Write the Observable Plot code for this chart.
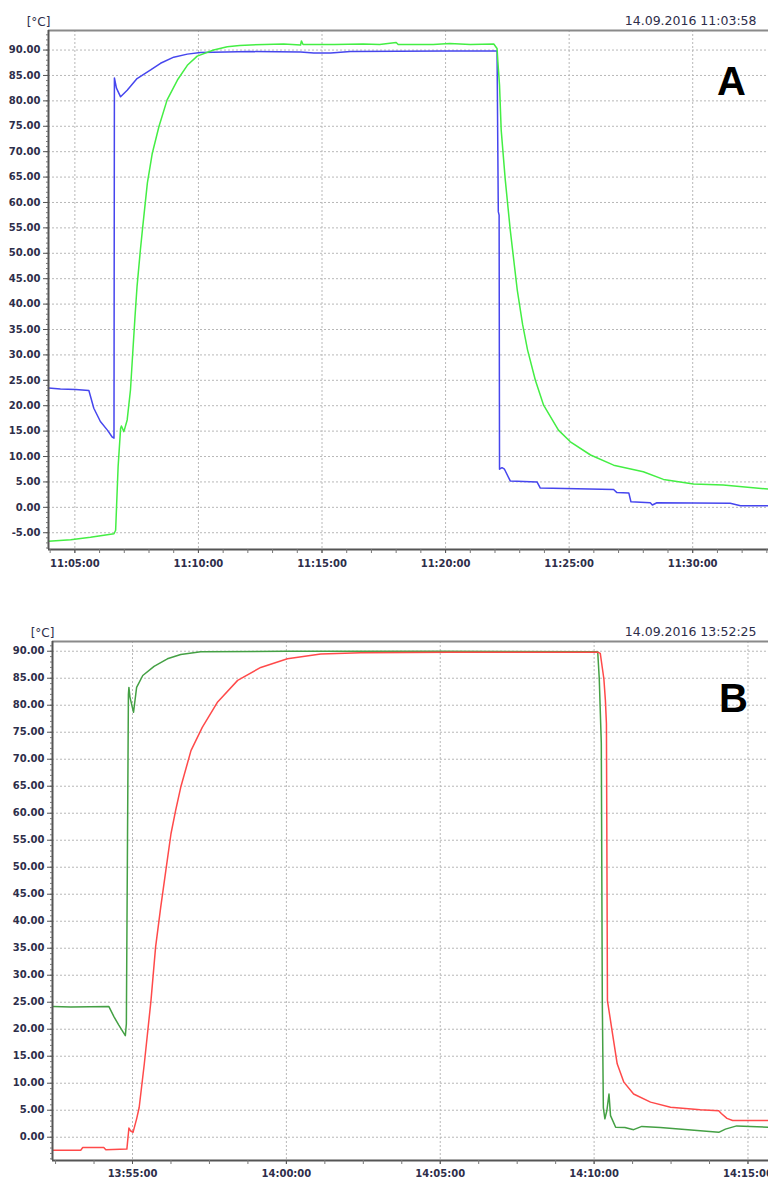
<!DOCTYPE html>
<html><head><meta charset="utf-8">
<script src="https://cdn.jsdelivr.net/npm/d3@7"></script>
<script src="https://cdn.jsdelivr.net/npm/@observablehq/plot@0.6"></script>
<style>
body{margin:0;background:#fff;}
#chart{width:768px;height:1180px;overflow:hidden;}
#chart svg{display:block;}
</style></head><body><div id="chart"></div>
<script>
// ---------- Panel A data ----------
const blueA = [["11:03:56",23.5],["11:04:25",23.3],["11:05:02",23.2],["11:05:34",23.0],["11:05:46",19.5],["11:06:02",16.9],["11:06:19",15.2],["11:06:31",13.8],["11:06:35",13.6],["11:06:36",84.5],["11:06:41",82.5],["11:06:51",80.8],["11:07:07",82.1],["11:07:31",84.4],["11:08:04",86.1],["11:08:28",87.4],["11:09:00",88.6],["11:09:33",89.2],["11:10:05",89.5],["11:12:06",89.7],["11:14:08",89.6],["11:14:40",89.4],["11:15:21",89.4],["11:16:09",89.7],["11:20:00",89.8],["11:22:05",89.8],["11:22:08",58.2],["11:22:10",57.5],["11:22:11",7.5],["11:22:17",7.8],["11:22:23",7.5],["11:22:37",5.2],["11:23:42",5.0],["11:23:50",3.8],["11:26:48",3.5],["11:26:56",2.9],["11:27:25",2.8],["11:27:30",1.1],["11:28:17",0.9],["11:28:22",0.45],["11:28:33",0.9],["11:31:31",0.8],["11:31:56",0.3],["11:33:04",0.3]];
const greenA = [["11:03:56",-6.7],["11:04:50",-6.4],["11:05:38",-5.9],["11:06:35",-5.2],["11:06:39",-4.5],["11:06:45",8],["11:06:51",15.5],["11:06:53",16.0],["11:06:59",14.9],["11:07:07",17.2],["11:07:15",23.1],["11:07:21",31],["11:07:26",37.5],["11:07:31",43.5],["11:07:39",50.6],["11:07:44",54.6],["11:07:56",63.8],["11:08:08",69.7],["11:08:24",74.9],["11:08:44",80.2],["11:09:09",84.1],["11:09:33",87.0],["11:09:57",88.8],["11:10:37",90.0],["11:11:10",90.65],["11:11:40",90.9],["11:12:06",91.0],["11:12:40",91.1],["11:13:27",91.2],["11:14:08",91.0],["11:14:10",91.8],["11:14:14",91.1],["11:15:30",91.1],["11:16:40",91.2],["11:17:20",91.1],["11:18:00",91.5],["11:18:05",91.1],["11:19:30",91.1],["11:20:10",91.3],["11:21:00",91.1],["11:21:57",91.2],["11:22:05",90.3],["11:22:07",87.7],["11:22:11",83.1],["11:22:15",74.3],["11:22:25",64.4],["11:22:37",54.6],["11:22:54",42.8],["11:23:07",36],["11:23:19",31],["11:23:38",25],["11:23:58",20.1],["11:24:34",15.2],["11:25:03",12.9],["11:25:52",10.3],["11:26:48",8.3],["11:28:00",7.0],["11:28:49",5.5],["11:30:02",4.6],["11:31:14",4.4],["11:33:04",3.6]];
const xTicksA = ["11:05:00","11:10:00","11:15:00","11:20:00","11:25:00","11:30:00"];
const yTicksA = [-5,0,5,10,15,20,25,30,35,40,45,50,55,60,65,70,75,80,85,90];
const xDomainA = ["11:03:56","11:33:04"];
const yDomainA = [-8.3, 93.85];
const dateA = "14.09.2016 11:03:58";

// ---------- Panel B data ----------
const greenB = [["13:52:25",24.2],["13:53:00",24.1],["13:54:14",24.2],["13:54:24",22.3],["13:54:33",20.8],["13:54:46",18.8],["13:54:48",21.0],["13:54:50",51.6],["13:54:52",82.0],["13:54:53",83.3],["13:54:55",81.5],["13:55:02",78.7],["13:55:08",83.3],["13:55:20",85.5],["13:55:42",87.2],["13:56:08",88.6],["13:56:34",89.4],["13:57:13",89.9],["14:00:00",90.0],["14:05:00",90.0],["14:10:07",89.9],["14:10:10",85],["14:10:14",73],["14:10:16",25],["14:10:18",5.5],["14:10:21",3.4],["14:10:25",5.0],["14:10:29",8.0],["14:10:32",4.0],["14:10:42",1.85],["14:11:00",1.8],["14:11:17",1.4],["14:11:33",2.0],["14:12:09",1.8],["14:13:27",1.2],["14:14:03",0.9],["14:14:16",1.5],["14:14:38",2.1],["14:15:39",1.85]];
const redB = [["13:52:25",-2.4],["13:53:19",-2.4],["13:53:23",-1.9],["13:54:04",-1.9],["13:54:08",-2.3],["13:54:49",-2.2],["13:54:53",1.7],["13:54:56",1.2],["13:55:01",0.9],["13:55:08",3.4],["13:55:13",5.5],["13:55:23",13.6],["13:55:36",25.3],["13:55:45",35.2],["13:55:55",42.6],["13:56:05",49.4],["13:56:15",56.2],["13:56:24",60.5],["13:56:34",64.8],["13:56:54",71.6],["13:57:16",75.9],["13:57:46",80.6],["13:58:25",84.6],["13:59:10",87.0],["14:00:02",88.6],["14:01:07",89.5],["14:02:25",89.7],["14:05:20",89.8],["14:10:08",89.8],["14:10:12",89.6],["14:10:19",84.9],["14:10:22",80.9],["14:10:24",76.6],["14:10:26",25.3],["14:10:36",19.1],["14:10:45",13.6],["14:10:58",10.2],["14:11:17",8.0],["14:11:50",6.5],["14:12:29",5.55],["14:13:27",5.1],["14:14:03",4.9],["14:14:08",4.4],["14:14:19",3.5],["14:14:30",3.1],["14:15:39",3.1]];
const xTicksB = ["13:55:00","14:00:00","14:05:00","14:10:00","14:15:00"];
const yTicksB = [0,5,10,15,20,25,30,35,40,45,50,55,60,65,70,75,80,85,90];
const xDomainB = ["13:52:24","14:15:40"];
const yDomainB = [-4.31, 91.8];
const dateB = "14.09.2016 13:52:25";

const unitLabel = "[°C]";

// ---------- helpers ----------
const T = s => new Date(`2016-09-14T${s}Z`);
const rows = arr => arr.map(([t, v]) => ({t: T(t), v}));
const fmtX = d3.utcFormat("%H:%M:%S");
const fmtY = d => d.toFixed(2);
const gridColor = "#b8b8b8";
const labelColor = "#2e2e4a";

function panel(o) {
  const xd = o.xDomain.map(T);
  const xt = o.xTicks.map(T);
  const yMinor = d3.range(Math.ceil(o.yDomain[0]), Math.floor(o.yDomain[1]) + 1);
  const marks = [
    Plot.ruleY(o.yTicks, {stroke: gridColor, strokeDasharray: "2,2"}),
    Plot.ruleX(xt, {stroke: gridColor, strokeDasharray: "2,2"}),
    ...o.series.map(s => Plot.line(rows(s.data), {x: "t", y: "v", stroke: s.color, strokeWidth: 1.5})),
    Plot.ruleY([o.yDomain[1]], {stroke: "#8a8a8a", strokeWidth: 2}),
    Plot.ruleY([o.yDomain[0]], {stroke: "#555", strokeWidth: 2}),
    Plot.ruleX([xd[0]], {stroke: "#555", strokeWidth: 2}),
    Plot.axisY(yMinor, {tickSize: 2, tickFormat: () => "", stroke: "#777", label: null}),
    Plot.axisY(o.yTicks, {tickSize: 5, tickPadding: 3, tickFormat: fmtY, stroke: "#555", fontWeight: "bold", label: null}),
    Plot.axisX(o.xMinor, {tickSize: 4, tickFormat: () => "", stroke: "#777", label: null}),
    Plot.axisX(xt, {tickSize: 4, tickPadding: o.xPad, tickFormat: fmtX, stroke: "#555", fontWeight: "bold", label: null}),
    Plot.text([unitLabel], {text: d => d, frameAnchor: "top-left", dx: o.unitDx, dy: o.unitDy, textAnchor: "middle", fontSize: 12, fontWeight: "normal"}),
    Plot.text([o.date], {text: d => d, frameAnchor: "top-right", dx: -12, dy: o.dateDy, textAnchor: "end", fontSize: 12.5, fontWeight: "normal"}),
    Plot.text([o.letter], {text: d => d, frameAnchor: "top-right", dx: o.letterDx, dy: o.letterDy, textAnchor: "middle", fontSize: 40, fontWeight: "bold", fontFamily: "Liberation Sans, Arial, sans-serif", fill: "#000"})
  ];
  return Plot.plot({
    width: 768,
    height: o.height,
    marginTop: o.marginTop,
    marginBottom: o.marginBottom,
    marginLeft: o.marginLeft,
    marginRight: 0,
    x: {type: "utc", domain: xd, label: null},
    y: {domain: o.yDomain, label: null},
    style: {fontFamily: "DejaVu Sans, sans-serif", fontSize: "10px", fontWeight: "bold", color: labelColor, background: "#fff", overflow: "visible"},
    marks
  });
}

const minorA = d3.utcMinute.range(T(xDomainA[0]), T(xDomainA[1]));
const t0B = T("13:55:00");
const minorB = d3.range(-2, 17).map(i => new Date(+t0B + i * 75000)).filter(d => d >= T(xDomainB[0]) && d <= T(xDomainB[1]));

const chart = document.getElementById("chart");
chart.appendChild(panel({
  series: [{data: blueA, color: "#4646ee"}, {data: greenA, color: "#44ee44"}],
  xDomain: xDomainA, yDomain: yDomainA, xTicks: xTicksA, yTicks: yTicksA, xMinor: minorA,
  height: 590, marginTop: 30, marginBottom: 41, marginLeft: 48, xPad: 6,
  date: dateA, dateDy: -14, unitDx: -10, unitDy: -13,
  letter: "A", letterDx: -37, letterDy: 36
}));
chart.appendChild(panel({
  series: [{data: greenB, color: "#44a044"}, {data: redB, color: "#ff4a4a"}],
  xDomain: xDomainB, yDomain: yDomainB, xTicks: xTicksB, yTicks: yTicksB, xMinor: minorB,
  height: 590, marginTop: 51, marginBottom: 20, marginLeft: 52, xPad: 5,
  date: dateB, dateDy: -14, unitDx: -10, unitDy: -13,
  letter: "B", letterDx: -35, letterDy: 42
}));
</script>
</body></html>
